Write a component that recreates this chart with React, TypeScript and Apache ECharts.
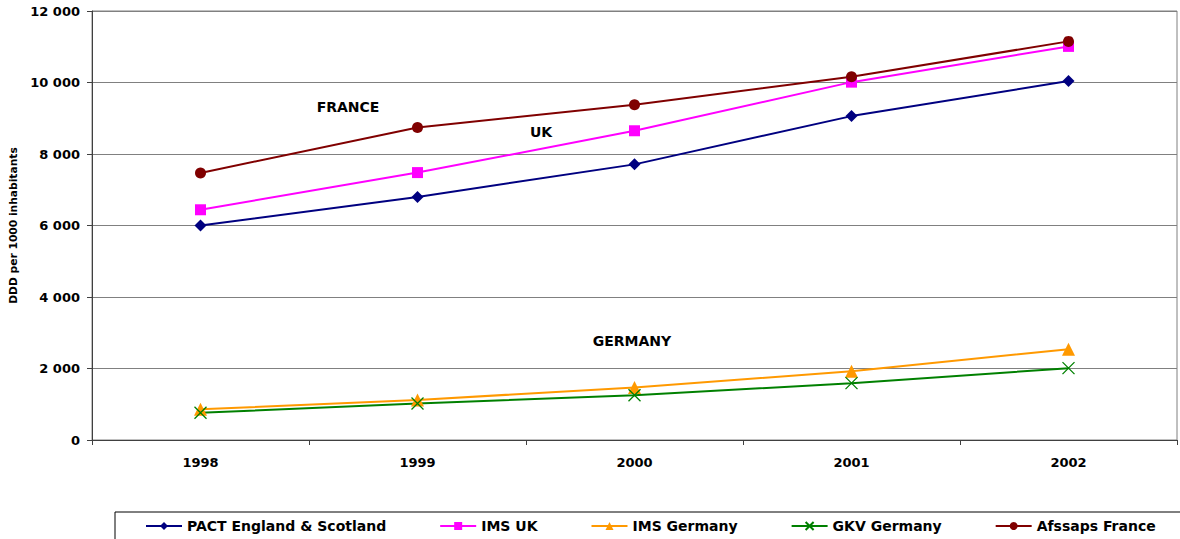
import React, { useEffect, useRef } from "react";
import * as echarts from "echarts";

const years = ["1998", "1999", "2000", "2001", "2002"];
const pactEnglandScotland = [6000, 6800, 7710, 9060, 10040];
const imsUk = [6440, 7480, 8650, 10010, 11010];
const imsGermany = [860, 1120, 1470, 1920, 2540];
const gkvGermany = [760, 1020, 1250, 1590, 2010];
const afssapsFrance = [7470, 8740, 9375, 10160, 11150];
const yTicks = { min: 0, max: 12000, interval: 2000 };

const FONT = "DejaVu Sans";

function fmt(v: number) {
  return String(v).replace(/\B(?=(\d{3})+(?!\d))/g, " ");
}

export default function App() {
  const ref = useRef<HTMLDivElement>(null);
  useEffect(() => {
    document.body.style.margin = "0";
    const chart = echarts.init(ref.current!, null, { renderer: "svg" });
    const mk = (
      name: string,
      data: number[],
      color: string,
      symbol: string,
      symbolSize: number,
      extraItem: any = {}
    ) => ({
      name,
      type: "line",
      data,
      symbol,
      symbolSize,
      showSymbol: true,
      lineStyle: { color, width: 2 },
      itemStyle: { color, borderWidth: 0, ...extraItem },
      emphasis: { disabled: true },
    });
    chart.setOption({
      animation: false,
      backgroundColor: "#fff",
      textStyle: { fontFamily: FONT },
      grid: { left: 92, top: 11, right: 3, bottom: 99, show: true, borderColor: "#808080", borderWidth: 1 },
      legend: {
        left: 115,
        top: 512,
        width: 1100,
        padding: [7, 30, 7, 30],
        itemGap: 53,
        itemWidth: 36,
        itemHeight: 10,
        borderColor: "#000",
        borderWidth: 1,
        textStyle: { fontFamily: FONT, fontWeight: "bold", fontSize: 14, color: "#000" },
        data: ["PACT England & Scotland", "IMS UK", "IMS Germany", "GKV Germany", "Afssaps France"],
      },
      xAxis: {
        type: "category",
        data: years,
        boundaryGap: true,
        axisLine: { lineStyle: { color: "#404040", width: 1 } },
        axisTick: { show: true, length: 5, alignWithLabel: false, lineStyle: { color: "#404040" } },
        axisLabel: { color: "#000", fontFamily: FONT, fontWeight: "bold", fontSize: 13, margin: 16 },
        splitLine: { show: false },
      },
      yAxis: {
        type: "value",
        min: yTicks.min,
        max: yTicks.max,
        interval: yTicks.interval,
        name: "DDD per 1000 inhabitants",
        nameLocation: "middle",
        nameRotate: 90,
        nameGap: 70,
        nameTextStyle: { color: "#000", fontFamily: FONT, fontWeight: "bold", fontSize: 10.7 },
        axisLine: { show: true, lineStyle: { color: "#404040", width: 1 } },
        axisTick: { show: true, length: 5, lineStyle: { color: "#404040" } },
        axisLabel: {
          color: "#000",
          fontFamily: FONT,
          fontWeight: "bold",
          fontSize: 13,
          margin: 12,
          formatter: (v: number) => fmt(v),
        },
        splitLine: { show: true, lineStyle: { color: "#808080", width: 1 } },
      },
      graphic: [
        { type: "text", x: 348, y: 107, style: { text: "FRANCE", fontFamily: FONT, fontWeight: "bold", fontSize: 14, fill: "#000", align: "center", verticalAlign: "middle" } },
        { type: "text", x: 541, y: 132, style: { text: "UK", fontFamily: FONT, fontWeight: "bold", fontSize: 14, fill: "#000", align: "center", verticalAlign: "middle" } },
        { type: "text", x: 632, y: 341, style: { text: "GERMANY", fontFamily: FONT, fontWeight: "bold", fontSize: 14, fill: "#000", align: "center", verticalAlign: "middle" } },
      ],
      series: [
        mk("PACT England & Scotland", pactEnglandScotland, "#000080", "diamond", 12),
        mk("IMS UK", imsUk, "#FF00FF", "rect", 11),
        mk("IMS Germany", imsGermany, "#FF9900", "triangle", 13),
        mk("GKV Germany", gkvGermany, "#008000", "path://M0,0L10,10M10,0L0,10", 12, {
          borderColor: "#008000",
          borderWidth: 1.3,
          color: "#008000",
        }),
        mk("Afssaps France", afssapsFrance, "#800000", "circle", 11),
      ],
    });
    return () => chart.dispose();
  }, []);
  return <div ref={ref} style={{ width: 1180, height: 539 }} />;
}
